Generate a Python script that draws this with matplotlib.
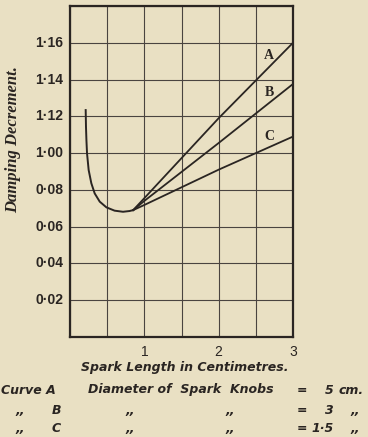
import matplotlib
matplotlib.use("Agg")
import matplotlib.pyplot as plt

# spark length (cm) vs damping decrement
common_x = [0.211, 0.213, 0.215, 0.221, 0.229, 0.251, 0.287, 0.332, 0.40, 0.49, 0.60, 0.713, 0.80, 0.85]
common_y = [0.1234, 0.119, 0.1144, 0.107, 0.0999, 0.0908, 0.0836, 0.0781, 0.0736, 0.0705, 0.0687, 0.0681, 0.0685, 0.0690]

branch_x = [0.85, 1.0, 2.0, 3.0]
curve_a = [0.0690, 0.0755, 0.1190, 0.1600]
curve_b = [0.0690, 0.0740, 0.1055, 0.1376]
curve_c = [0.0690, 0.0718, 0.0910, 0.1090]

y_ticks = [0.02, 0.04, 0.06, 0.08, 0.10, 0.12, 0.14, 0.16]
y_labels = ["0·02", "0·04", "0·06", "0·08", "1·00", "1·12", "1·14", "1·16"]
x_ticks = [1, 2, 3]
x_labels = ["1", "2", "3"]

paper = "#e9e0c3"
ink = "#2a2522"

fig = plt.figure(figsize=(3.68, 4.37), dpi=100, facecolor=paper)
ax = fig.add_axes([70 / 368, 1 - 337 / 437, 223 / 368, 331 / 437])
ax.set_facecolor(paper)

ax.set_xlim(0, 3)
ax.set_ylim(0, 0.18)
ax.set_xticks([0.5 * i for i in range(7)])
ax.set_yticks([0.02 * i for i in range(10)])
ax.grid(True, color="#4a4440", linewidth=0.8)
ax.tick_params(length=0, labelbottom=False, labelleft=False)
for side in ax.spines:
    ax.spines[side].set_color(ink)
    ax.spines[side].set_linewidth(1.6)

ax.plot(common_x, common_y, color=ink, lw=1.4, solid_joinstyle="round")
for ys in (curve_a, curve_b, curve_c):
    ax.plot(branch_x, ys, color=ink, lw=1.3)

serif = dict(family="Liberation Serif", weight="bold", fontsize=10, color=ink)
ax.text(2.68, 0.153, "A", ha="center", va="center", **serif)
ax.text(2.68, 0.133, "B", ha="center", va="center", **serif)
ax.text(2.68, 0.109, "C", ha="center", va="center", **serif)

# tick labels drawn by hand so they sit like the printed ones
for v, s in zip(y_ticks, y_labels):
    ax.text(-0.09, v, s, ha="right", va="center", fontsize=10,
            fontweight="bold", color=ink, family="Liberation Sans")
for v, s in zip(x_ticks, x_labels):
    ax.text(v, -0.0045, s, ha="center", va="top", fontsize=10,
            color=ink, family="Liberation Sans")

fig.text(13 / 368, 1 - 140 / 437, "Damping Decrement.", rotation=90,
         ha="center", va="center", fontsize=12, style="italic", weight="bold",
         family="Liberation Serif", color=ink)

sans = dict(family="DejaVu Sans", weight="bold", style="italic",
            fontsize=9, color=ink, va="center")
fig.text(185 / 368, 1 - 367 / 437, "Spark Length in Centimetres.", ha="center", **sans)

rows = [390, 410, 428]
fig.text(1 / 368, 1 - rows[0] / 437, "Curve A", ha="left", **sans)
fig.text(88 / 368, 1 - rows[0] / 437, "Diameter of  Spark  Knobs", ha="left", **sans)
fig.text(334 / 368, 1 - rows[0] / 437, "5", ha="right", **sans)
fig.text(339 / 368, 1 - rows[0] / 437, "cm.", ha="left", **sans)
for r, letter, val in [(rows[1], "B", "3"), (rows[2], "C", "1·5")]:
    y = 1 - r / 437
    fig.text(20 / 368, y, ",,", ha="center", **sans)
    fig.text(56 / 368, y, letter, ha="center", **sans)
    fig.text(130 / 368, y, ",,", ha="center", **sans)
    fig.text(230 / 368, y, ",,", ha="center", **sans)
    fig.text(334 / 368, y, val, ha="right", **sans)
    fig.text(355 / 368, y, ",,", ha="center", **sans)
for r in rows:
    fig.text(302 / 368, 1 - r / 437, "=", ha="center", **sans)

fig.savefig("out.png", dpi=100, facecolor=paper)
